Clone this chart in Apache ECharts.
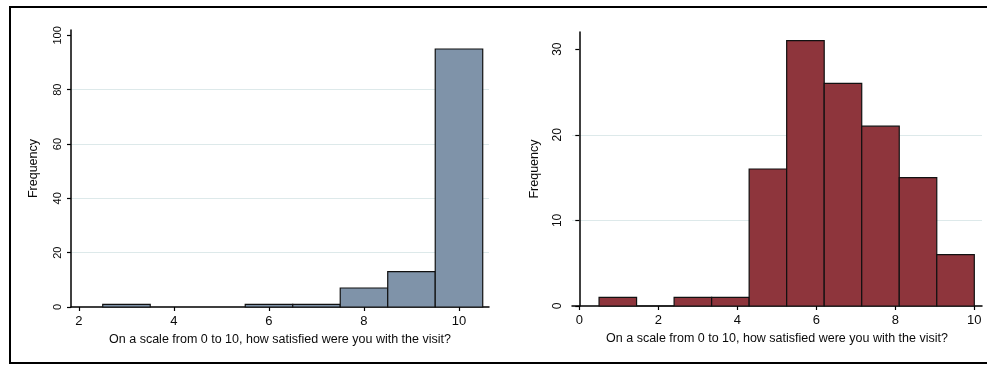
<!DOCTYPE html>
<html>
<head>
<meta charset="utf-8">
<script src="https://cdn.jsdelivr.net/npm/echarts@6/dist/echarts.min.js"></script>
<style>
html,body{margin:0;padding:0;background:#fff;overflow:hidden;width:987px;height:365px;}
#frame{position:absolute;left:9px;top:6px;width:1100px;height:358px;border-left:2px solid #000;border-top:2px solid #000;border-bottom:2px solid #000;box-sizing:border-box;}
#chart{position:absolute;left:0;top:0;width:987px;height:365px;}
</style>
</head>
<body>
<div id="frame"></div>
<div id="chart"></div>
<script>
// Left histogram: bins (start, end) and frequencies
const leftBinStart = [2.5, 5.5, 6.5, 7.5, 8.5, 9.5];
const leftBinEnd   = [3.5, 6.5, 7.5, 8.5, 9.5, 10.5];
const leftCounts   = [1, 1, 1, 7, 13, 95];
const leftXTicks   = [2, 4, 6, 8, 10];
const leftYTicks   = [0, 20, 40, 60, 80, 100];

// Right histogram: bin edges and frequencies
const rightBinEdges = [0.5, 1.45, 2.4, 3.35, 4.3, 5.25, 6.2, 7.15, 8.1, 9.05, 10.0];
const rightCounts   = [1, 0, 1, 1, 16, 31, 26, 21, 15, 6];
const rightXTicks   = [0, 2, 4, 6, 8, 10];
const rightYTicks   = [0, 10, 20, 30];

const xTitle = 'On a scale from 0 to 10, how satisfied were you with the visit?';
const yTitle = 'Frequency';

const leftData = leftCounts.map((c, i) => [leftBinStart[i], leftBinEnd[i], c]);
const rightData = rightCounts.map((c, i) => [rightBinEdges[i], rightBinEdges[i + 1], c]);

function renderHist(params, api) {
  const p0 = api.coord([api.value(0), 0]);
  const p1 = api.coord([api.value(1), api.value(2)]);
  return {
    type: 'rect',
    shape: { x: p0[0], y: p1[1], width: p1[0] - p0[0], height: p0[1] - p1[1] },
    style: api.style()
  };
}

const font = 'Liberation Sans, Arial, sans-serif';
const txt = '#0a0a0a';

function xAxis(idx, min, max, ticks) {
  return {
    type: 'value', gridIndex: idx, min: min, max: max,
    name: xTitle, nameLocation: 'middle', nameGap: 26,
    nameTextStyle: { fontFamily: font, fontSize: 12.5, color: txt },
    axisLine: { lineStyle: { color: '#000', width: 1.5 } },
    axisTick: { show: true, length: 4, customValues: ticks, lineStyle: { color: '#000', width: 1.2 } },
    axisLabel: { customValues: ticks, margin: 8, fontFamily: font, fontSize: 13, color: txt },
    splitLine: { show: false }
  };
}
function yAxis(idx, max, interval, ticks, fs) {
  return {
    type: 'value', gridIndex: idx, min: 0, max: max, interval: interval,
    name: yTitle, nameLocation: 'middle', nameGap: 31,
    nameTextStyle: { fontFamily: font, fontSize: 12.5, color: txt },
    axisLine: { show: true, lineStyle: { color: '#000', width: 1.5 } },
    axisTick: { show: true, length: 4, customValues: ticks, lineStyle: { color: '#000', width: 1.2 } },
    axisLabel: { customValues: ticks, rotate: 90, margin: 8, fontFamily: font, fontSize: fs, color: txt },
    splitLine: { show: true, showMinLine: false, showMaxLine: false, lineStyle: { color: '#dde9ea', width: 1 } }
  };
}

const chart = echarts.init(document.getElementById('chart'), null, { renderer: 'canvas' });
chart.setOption({
  animation: false,
  backgroundColor: 'transparent',
  grid: [
    { left: 71, right: 498, top: 30, bottom: 58 },
    { left: 572, right: 5, top: 32, bottom: 59 }
  ],
  xAxis: [
    xAxis(0, 1.832, 10.632, leftXTicks),
    xAxis(1, -0.185, 10.195, rightXTicks)
  ],
  yAxis: [
    yAxis(0, 102, 20, leftYTicks, 11),
    yAxis(1, 32, 10, rightYTicks, 12)
  ],
  series: [
    {
      type: 'custom', xAxisIndex: 0, yAxisIndex: 0, data: leftData,
      renderItem: renderHist,
      encode: { x: [0, 1], y: 2 },
      itemStyle: { color: '#7f93a9', borderColor: '#111', borderWidth: 1.2 }
    },
    {
      type: 'custom', xAxisIndex: 1, yAxisIndex: 1, data: rightData,
      renderItem: renderHist,
      encode: { x: [0, 1], y: 2 },
      itemStyle: { color: '#8e353c', borderColor: '#111', borderWidth: 1.2 }
    }
  ]
});
</script>
</body>
</html>
